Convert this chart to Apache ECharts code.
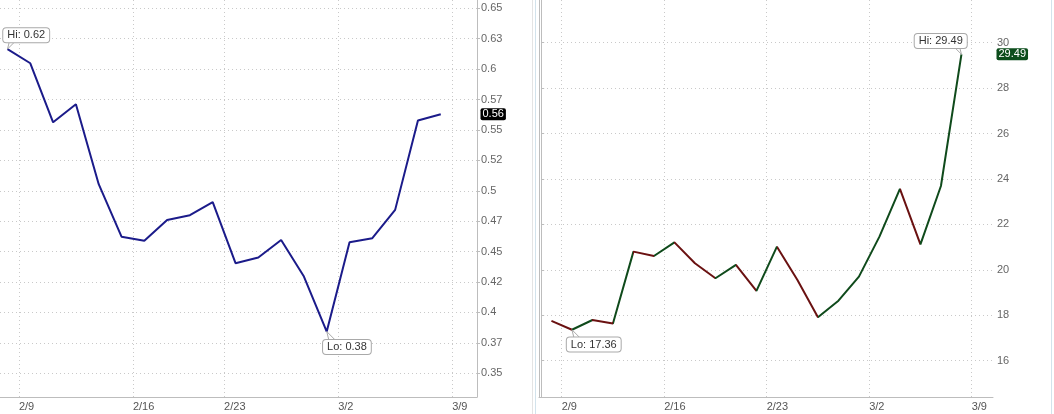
<!DOCTYPE html>
<html><head><meta charset="utf-8">
<script src="https://cdn.jsdelivr.net/npm/echarts@6/dist/echarts.min.js"></script>
<style>html,body{margin:0;padding:0;background:#fff}#c{width:1054px;height:414px}</style>
</head><body><div id="c"></div>
<script>
// ---- data ----
const leftDates = ['2/6','2/9','2/10','2/11','2/12','2/13','2/17','2/18','2/19','2/20','2/23','2/24','2/25','2/26','2/27','3/2','3/3','3/4','3/5','3/6','3/9'];
const leftValues = [0.6165,0.6048,0.5563,0.5711,0.5054,0.4623,0.4590,0.4760,0.4799,0.4906,0.4405,0.4451,0.4596,0.4295,0.3843,0.4577,0.4610,0.4843,0.5577,0.5629];
const rightDates = ['2/6','2/9','2/10','2/11','2/12','2/13','2/16','2/17','2/18','2/19','2/20','2/23','2/24','2/25','2/26','2/27','3/2','3/3','3/4','3/5','3/6','3/9'];
const rightValues = [17.75,17.36,17.79,17.64,20.80,20.61,21.21,20.29,19.63,20.22,19.07,21.02,19.55,17.91,18.64,19.70,21.46,23.56,21.12,23.69,29.49];
const weekLabels = ['2/9','2/16','2/23','3/2','3/9'];
const leftYTickValues = [0.35,0.375,0.4,0.425,0.45,0.475,0.5,0.525,0.55,0.575,0.6,0.625,0.65];
const leftYTickLabels = ['0.35','0.37','0.4','0.42','0.45','0.47','0.5','0.52','0.55','0.57','0.6','0.63','0.65'];
const rightYTickValues = [16,18,20,22,24,26,28,30];
const rightYTickLabels = ['16','18','20','22','24','26','28','30'];

// ---- helpers ----
const FONT = 'Liberation Sans, Arial, sans-serif';
const dayNum = s => { const p = s.split('/').map(Number); return p[0]*31 + p[1]; };
const weekPos = dates => weekLabels.map(w => dates.findIndex(d => dayNum(d) >= dayNum(w)));
const leftWeekPos = weekPos(leftDates);
const rightWeekPos = weekPos(rightDates);
const nearestLabel = (vals, labels) => v => {
  let bi = 0; vals.forEach((t,i)=>{ if (Math.abs(t-v) < Math.abs(vals[bi]-v)) bi = i; });
  return labels[bi];
};
const weekLabelFor = pos => v => { const i = pos.indexOf(Math.round(v)); return i >= 0 ? weekLabels[i] : ''; };

const leftData = leftValues.map((v,i)=>[i+0.5, v]);
const rightData = rightValues.map((v,i)=>[i+0.5, v]);

const GREEN = '#0f4a1b', RED = '#6a1111', NAVY = '#1b1b8a';
const pieces = [];
for (let k = 0; k < rightValues.length-1; k++) {
  pieces.push({gte: k+0.5, lt: k+1.5, color: rightValues[k+1] >= rightValues[k] ? GREEN : RED});
}
pieces.push({gte: rightValues.length-0.5, color: GREEN});
pieces.push({lt: 0.5, color: RED});

const LEFT_X = {min: 0.171, max: 21.09};
const RIGHT_X = {min: -0.107, max: 22.04};

const splitStyle = {show:true, lineStyle:{color:'#c9c9c9', width:1, type:[1,3]}};
const axisLineStyle = {show:true, lineStyle:{color:'#bdbdbd', width:1}};

function xAxisCfg(grid, ext, pos) {
  return {
    gridIndex: grid, type:'value', min: ext.min, max: ext.max,
    axisLine: axisLineStyle,
    axisTick: {show:false, customValues: pos},
    axisLabel: {customValues: pos, formatter: weekLabelFor(pos), align:'left', margin:4,
                color:'#555', fontSize:11, fontFamily: FONT},
    splitLine: splitStyle
  };
}
function yAxisCfg(grid, min, max, vals, labels) {
  return {
    gridIndex: grid, type:'value', position:'right', min, max,
    axisLine: axisLineStyle,
    axisTick: {show:true, length:3, customValues: vals, lineStyle:{color:'#bdbdbd'}},
    axisLabel: {customValues: vals, formatter: nearestLabel(vals, labels), margin:4,
                color:'#666', fontSize:11, fontFamily: FONT},
    splitLine: splitStyle
  };
}

const boxLabel = {color:'#333', fontSize:11, fontFamily:FONT, backgroundColor:'#fff',
  borderColor:'#a9a9a9', borderWidth:1, borderRadius:3, padding:[1,4,0,4], lineHeight:13};

function callout(pt, text, dx, dy) {
  return {coord: pt, symbol:'circle', symbolSize:1, itemStyle:{color:'rgba(0,0,0,0)'},
    label: Object.assign({show:true, position:'inside', offset:[dx,dy], formatter: () => text}, boxLabel)};
}
function tail(pt, path, off) {
  return {coord: pt, symbol: 'path://' + path, symbolSize:[8,8], symbolOffset: off,
    itemStyle:{color:'#fff', borderColor:'#a9a9a9', borderWidth:1}, label:{show:false}};
}
function tag(pt, text, bg) {
  return {coord: pt, symbol:'circle', symbolSize:1, itemStyle:{color:'rgba(0,0,0,0)'},
    label:{show:true, position:'right', distance:3, formatter: () => text, color:'#fff',
      backgroundColor:bg, borderRadius:2, padding:[1,2,0,2], fontSize:11, fontFamily:FONT, lineHeight:11}};
}
function extremes(vals) {
  let hi = 0, lo = 0;
  vals.forEach((v,i)=>{ if (v > vals[hi]) hi = i; if (v < vals[lo]) lo = i; });
  return {hi, lo};
}
const le = extremes(leftValues), re = extremes(rightValues);
const lHi = [le.hi+0.5, leftValues[le.hi]], lLo = [le.lo+0.5, leftValues[le.lo]];
const rHi = [re.hi+0.5, rightValues[re.hi]], rLo = [re.lo+0.5, rightValues[re.lo]];
const lLast = leftValues[leftValues.length-1], rLast = rightValues[rightValues.length-1];

const chart = echarts.init(document.getElementById('c'), null, {renderer:'canvas'});
chart.setOption({
  animation: false,
  backgroundColor: '#fff',
  grid: [
    {left: 0, right: 577, top: 0, bottom: 17},
    {left: 539, right: 61, top: 0, bottom: 17}
  ],
  xAxis: [xAxisCfg(0, LEFT_X, leftWeekPos), xAxisCfg(1, RIGHT_X, rightWeekPos)],
  yAxis: [
    yAxisCfg(0, 0.3305, 0.6568, leftYTickValues, leftYTickLabels),
    yAxisCfg(1, 14.40, 31.88, rightYTickValues, rightYTickLabels),
    {gridIndex:1, type:'value', position:'left', min:14.40, max:31.88, axisLine:axisLineStyle,
     axisTick:{show:false}, axisLabel:{show:false}, splitLine:{show:false}}
  ],
  visualMap: [{type:'piecewise', show:false, seriesIndex:1, dimension:0, pieces}],
  graphic: [
    {type:'line', shape:{x1:532.5, y1:0, x2:532.5, y2:414}, style:{stroke:'#e4e4e4', lineWidth:1}},
    {type:'line', shape:{x1:535.5, y1:0, x2:535.5, y2:414}, style:{stroke:'#d3e3ec', lineWidth:1}},
    {type:'line', shape:{x1:1051.5, y1:0, x2:1051.5, y2:414}, style:{stroke:'#d3e3ec', lineWidth:1}}
  ],
  series: [
    {type:'line', xAxisIndex:0, yAxisIndex:0, data:leftData, showSymbol:false, symbol:'none',
     lineStyle:{color:NAVY, width:2}, itemStyle:{color:NAVY},
     markPoint:{animation:false, data:[
       tail(lHi, 'M0,8 L2,0 L8,0 Z', [4,-4]),
       tail(lLo, 'M0,0 L2,8 L8,8 Z', [4,4]),
       callout(lHi, 'Hi: ' + leftValues[le.hi].toFixed(2), 18.7, -13.7),
       callout(lLo, 'Lo: ' + leftValues[le.lo].toFixed(2), 20.2, 15.5),
       tag([LEFT_X.max, lLast], lLast.toFixed(2), '#000')
     ]}},
    {type:'line', xAxisIndex:1, yAxisIndex:1, data:rightData, showSymbol:false, symbol:'none',
     lineStyle:{width:2},
     markPoint:{animation:false, data:[
       tail(rHi, 'M8,8 L0,0 L6,0 Z', [-4,-4]),
       tail(rLo, 'M0,0 L2,8 L8,8 Z', [4,4]),
       callout(rHi, 'Hi: ' + rightValues[re.hi].toFixed(2), -20.7, -13.3),
       callout(rLo, 'Lo: ' + rightValues[re.lo].toFixed(2), 21.8, 14.7),
       tag([RIGHT_X.max, rLast], rLast.toFixed(2), '#0c4d1c')
     ]}}
  ]
});
</script></body></html>
